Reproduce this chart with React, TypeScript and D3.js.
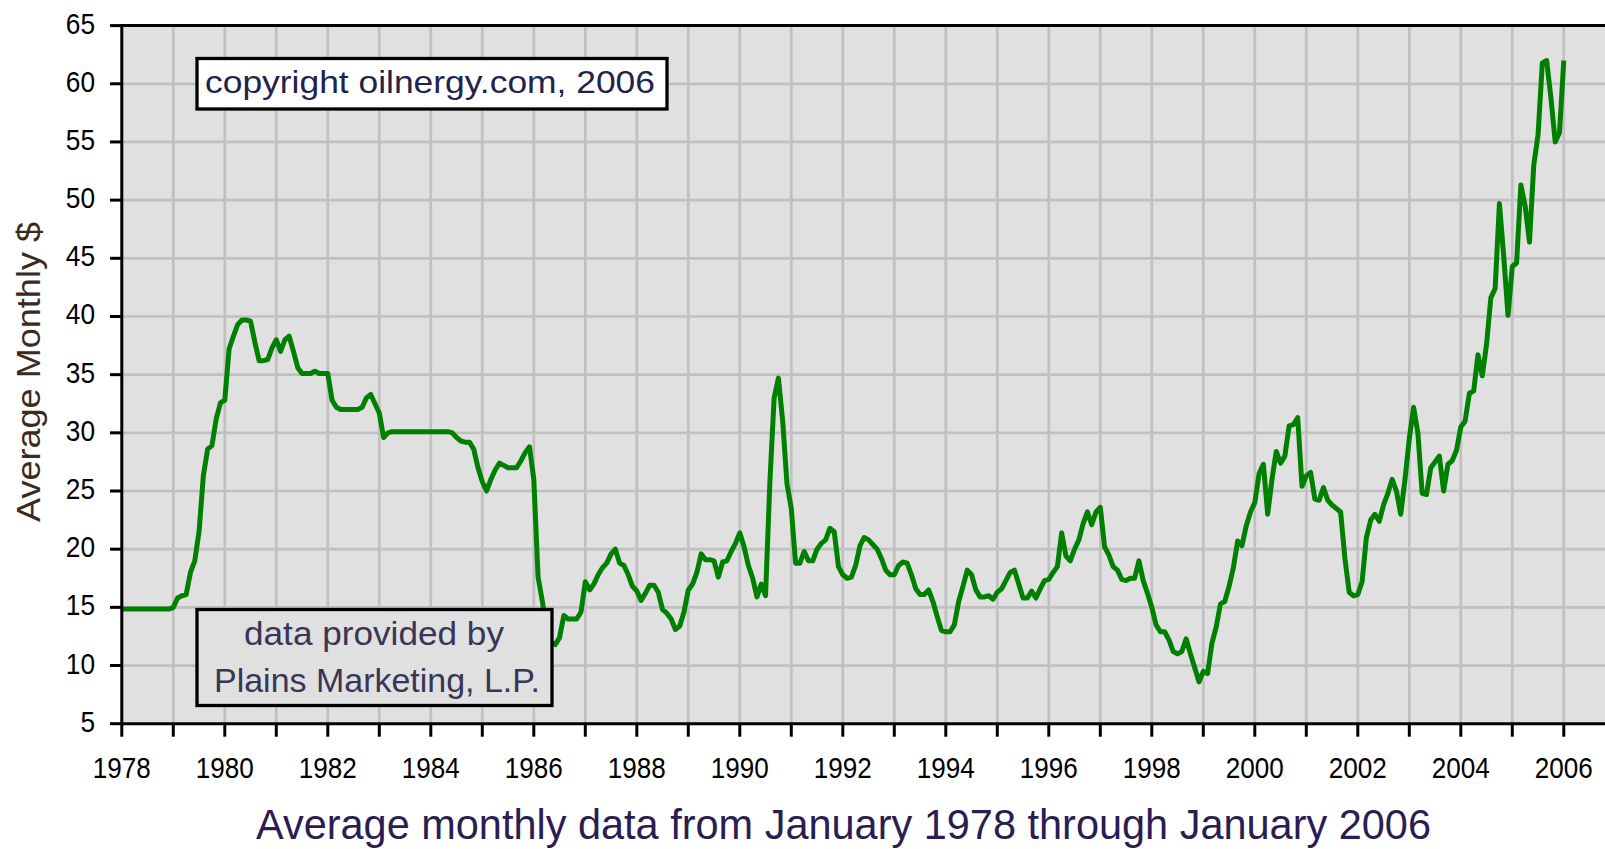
import React from "react";
import * as d3 from "d3";

// monthly average price, January 1978 onward (one row per year)
const startYear = 1978;

const prices1978to1985 = [
  14.85, 14.85, 14.85, 14.85, 14.85, 14.85, 14.85, 14.85, 14.85, 14.85, 14.85, 14.85,
  15.0, 15.8, 16.0, 16.1, 18.0, 19.0, 21.5, 26.3, 28.6, 28.9, 31.2, 32.6,
  32.8, 37.2, 38.3, 39.3, 39.7, 39.7, 39.6, 37.8, 36.2, 36.2, 36.3, 37.3,
  38.0, 37.0, 38.0, 38.3, 37.0, 35.6, 35.1, 35.1, 35.1, 35.3, 35.1, 35.1,
  35.1, 32.8, 32.2, 32.0, 32.0, 32.0, 32.0, 32.0, 32.2, 33.0, 33.3, 32.5,
  31.7, 29.6, 30.0, 30.1, 30.1, 30.1, 30.1, 30.1, 30.1, 30.1, 30.1, 30.1,
  30.1, 30.1, 30.1, 30.1, 30.1, 30.0, 29.6, 29.3, 29.2, 29.2, 28.6, 27.0,
  25.8, 25.0, 26.0, 26.8, 27.4, 27.2, 27.0, 27.0, 27.0, 27.6, 28.3, 28.8,
];

const prices1986to1995 = [
  26.0, 17.6, 15.5, 13.0, 12.0, 11.8, 12.4, 14.3, 14.0, 14.0, 14.0, 14.6,
  17.2, 16.5, 17.0, 17.8, 18.4, 18.8, 19.6, 20.0, 18.8, 18.6, 17.8, 16.8,
  16.4, 15.6, 16.2, 16.9, 16.9, 16.3, 14.8, 14.5, 14.0, 13.1, 13.4, 14.6,
  16.5, 17.0, 18.0, 19.6, 19.1, 19.1, 19.0, 17.6, 18.9, 19.0, 19.8, 20.5,
  21.4, 20.2, 18.6, 17.5, 15.9, 17.0, 16.0, 25.7, 33.0, 34.7, 31.0, 25.6,
  23.5, 18.8, 18.8, 19.8, 19.0, 19.0, 20.0, 20.5, 20.8, 21.8, 21.5, 18.5,
  17.8, 17.5, 17.6, 18.6, 20.3, 21.0, 20.8, 20.4, 20.0, 19.2, 18.2, 17.8,
  17.8, 18.6, 18.9, 18.8, 17.8, 16.6, 16.1, 16.1, 16.5, 15.5, 14.2, 13.0,
  12.9, 12.9, 13.5, 15.5, 16.8, 18.2, 17.8, 16.5, 15.9, 15.9, 16.0, 15.7,
  16.3, 16.6, 17.3, 18.0, 18.2, 17.0, 15.8, 15.8, 16.4, 15.8, 16.6, 17.3,
];

const prices1996to2006 = [
  17.4, 18.0, 18.5, 21.4, 19.4, 19.0, 20.0, 20.8, 22.2, 23.2, 22.1, 23.2,
  23.6, 20.2, 19.5, 18.5, 18.2, 17.4, 17.3, 17.5, 17.5, 19.0, 17.3, 16.2,
  15.0, 13.5, 12.9, 12.9, 12.2, 11.2, 11.0, 11.2, 12.3, 11.0, 9.8, 8.6,
  9.5, 9.3, 11.9, 13.3, 15.3, 15.5, 16.8, 18.4, 20.7, 20.3, 22.0, 23.2,
  24.0, 26.5, 27.3, 23.0, 26.0, 28.4, 27.4, 28.0, 30.6, 30.7, 31.3, 25.4,
  26.3, 26.6, 24.3, 24.2, 25.3, 24.2, 23.8, 23.5, 23.2, 19.2, 16.3, 16.0,
  16.1, 17.2, 21.0, 22.5, 23.0, 22.4, 23.8, 24.8, 26.0, 25.0, 23.0, 26.0,
  29.5, 32.2, 30.0, 24.8, 24.7, 27.0, 27.5, 28.0, 25.0, 27.3, 27.6, 28.5,
  30.5, 31.0, 33.4, 33.6, 36.7, 34.9, 37.6, 41.6, 42.4, 49.7, 45.2, 40.1,
  44.3, 44.6, 51.3, 49.5, 46.4, 53.0, 55.6, 61.8, 62.0, 58.8, 55.0, 55.8,
  62.0,
];

const yTicks = [5, 10, 15, 20, 25, 30, 35, 40, 45, 50, 55, 60, 65];
const labelYears = [1978, 1980, 1982, 1984, 1986, 1988, 1990, 1992, 1994, 1996, 1998, 2000, 2002, 2004, 2006];
const xTitle = "Average monthly data from January 1978 through January 2006";
const yTitle = "Average Monthly $";
const copyrightNote = "copyright oilnergy.com, 2006";
const sourceNote = ["data provided by", "Plains Marketing, L.P."];

const W = 1605;
const H = 849;
const font = "'Liberation Sans', Arial, sans-serif";

const App = () => {
  const prices = [...prices1978to1985, ...prices1986to1995, ...prices1996to2006];

  const x = d3.scaleLinear().domain([1978, 2006]).range([121.8, 1563.8]);
  const y = d3.scaleLinear().domain([5, 65]).range([723.7, 25.6]);

  const left = x(1978);
  const right = x(2006.9);
  const top = y(65);
  const bottom = y(5);

  const line = d3
    .line<number>()
    .x((d, i) => x(startYear + i / 12))
    .y((d) => y(d));

  const tickYears = d3.range(1978, 2008);

  return (
    <svg
      width={W}
      height={H}
      style={{ position: "absolute", left: 0, top: 0, display: "block", background: "#fff" }}
    >
      <rect x={left} y={top} width={right - left} height={bottom - top} fill="#e0e0e0" />

      {/* grid */}
      {tickYears.slice(1).map((yr) => (
        <line key={"gx" + yr} x1={x(yr)} x2={x(yr)} y1={top} y2={bottom} stroke="#c0c0c0" strokeWidth={2.7} />
      ))}
      {yTicks.slice(1, -1).map((t) => (
        <line key={"gy" + t} x1={left} x2={right} y1={y(t)} y2={y(t)} stroke="#c0c0c0" strokeWidth={2.7} />
      ))}

      <path
        d={line(prices) || ""}
        fill="none"
        stroke="#008000"
        strokeWidth={5}
        strokeLinejoin="round"
      />

      {/* note boxes */}
      <rect x={197} y={58.5} width={470} height={50.5} fill="#fff" stroke="#000" strokeWidth={3.3} />
      <text x={205} y={93} fontFamily={font} fontSize={32} fill="#22224a" textLength={450} lengthAdjust="spacingAndGlyphs">
        {copyrightNote}
      </text>

      <rect x={197} y={609.5} width={355} height={96} fill="#e0e0e0" stroke="#000" strokeWidth={3.3} />
      <text x={244} y={645} fontFamily={font} fontSize={33} fill="#3a3455" textLength={260} lengthAdjust="spacingAndGlyphs">
        {sourceNote[0]}
      </text>
      <text x={214} y={691.5} fontFamily={font} fontSize={33} fill="#3a3455" textLength={326} lengthAdjust="spacingAndGlyphs">
        {sourceNote[1]}
      </text>

      {/* axes */}
      <line x1={left} x2={right} y1={top} y2={top} stroke="#000" strokeWidth={3} />
      <line x1={left} x2={right} y1={bottom} y2={bottom} stroke="#000" strokeWidth={3} />
      <line x1={left} x2={left} y1={top - 1.5} y2={bottom + 1.5} stroke="#000" strokeWidth={3} />

      {yTicks.map((t) => {
        const s = String(t);
        const len = s.length * 14.6;
        return (
          <g key={"yt" + t}>
            <line x1={110} x2={left} y1={y(t)} y2={y(t)} stroke="#000" strokeWidth={3} />
            <text x={95 - len} y={y(t) + 8} fontFamily={font} fontSize={30} fill="#000" textLength={len} lengthAdjust="spacingAndGlyphs">
              {s}
            </text>
          </g>
        );
      })}

      {tickYears.map((yr) => (
        <line key={"xt" + yr} x1={x(yr)} x2={x(yr)} y1={bottom} y2={bottom + 13} stroke="#000" strokeWidth={3} />
      ))}
      {labelYears.map((yr) => (
        <text key={"xl" + yr} x={x(yr) - 29} y={778} fontFamily={font} fontSize={30} fill="#000" textLength={58} lengthAdjust="spacingAndGlyphs">
          {String(yr)}
        </text>
      ))}

      <text x={256} y={839} fontFamily={font} fontSize={42} fill="#2b1d52" textLength={1175} lengthAdjust="spacingAndGlyphs">
        {xTitle}
      </text>
      <text
        transform="translate(40,522) rotate(-90)"
        x={0}
        y={0}
        fontFamily={font}
        fontSize={34}
        fill="#3b2a1e"
        textLength={300}
        lengthAdjust="spacingAndGlyphs"
      >
        {yTitle}
      </text>
    </svg>
  );
};

export default App;
